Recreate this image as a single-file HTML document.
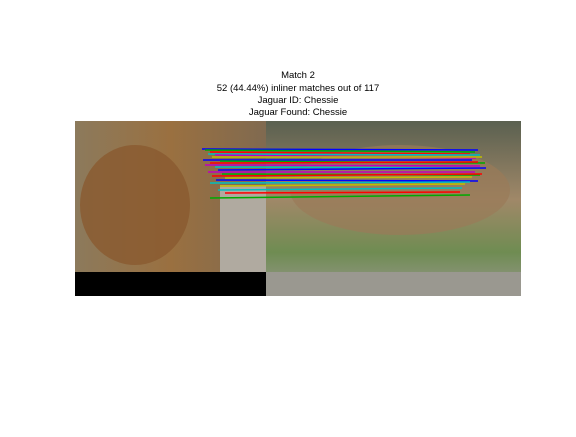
<!DOCTYPE html>
<html><head><meta charset="utf-8"><style>
body{margin:0;background:#fff;width:576px;height:432px;overflow:hidden;font-family:"Liberation Sans",sans-serif}
</style></head><body>
<svg width="576" height="432">
<defs>
<linearGradient id="lg" x1="0" y1="0" x2="1" y2="0"><stop offset="0" stop-color="#8c7a5c"/><stop offset="0.5" stop-color="#9a7040"/><stop offset="1" stop-color="#806a50"/></linearGradient>
<linearGradient id="rg" x1="0" y1="0" x2="0" y2="1"><stop offset="0" stop-color="#5a6050"/><stop offset="0.45" stop-color="#a08868"/><stop offset="0.75" stop-color="#6f8c52"/><stop offset="1" stop-color="#9a9890"/></linearGradient>
</defs>
<g font-size="9.5" text-anchor="middle" fill="#000">
<text x="298" y="78">Match 2</text>
<text x="298" y="91">52 (44.44%) inliner matches out of 117</text>
<text x="298" y="103">Jaguar ID: Chessie</text>
<text x="298" y="115">Jaguar Found: Chessie</text>
</g>
<g>
<rect x="75" y="121" width="191" height="151" fill="url(#lg)"/>
<ellipse cx="135" cy="205" rx="55" ry="60" fill="#8a5a30" opacity="0.8"/>
<rect x="220" y="185" width="46" height="87" fill="#b0aaa0"/>
<rect x="75" y="272" width="191" height="24" fill="#000"/>
</g>
<g>
<rect x="266" y="121" width="255" height="175" fill="url(#rg)"/>
<ellipse cx="400" cy="190" rx="110" ry="45" fill="#9a7a58" opacity="0.7"/>
<rect x="266" y="272" width="255" height="24" fill="#9a9890"/>
</g>
<g id="lines"></g>
</svg>
<script>
const x1s=[202,205,210,208,215,212,203,220,210,205,215,218,208,222,212,225,216,210,220,218,225,210];
const y1s=[149,150,152,154,155,157,160,161,163,165,167,170,172,174,176,178,180,183,186,190,193,198];
const x2s=[478,475,470,480,476,482,472,485,478,480,470,486,475,480,482,472,478,470,465,462,460,470];
const y2s=[150,152,154,155,158,157,160,163,162,166,168,168,172,175,174,177,181,182,184,188,192,195];
const colors=['#0000ff','#00aa00','#ff0000','#00bfbf','#bf00bf','#bfbf00','#0000ff','#00aa00','#ff0000','#bf00bf','#00bfbf','#0000ff','#bf00bf','#00aa00','#ff0000','#bfbf00','#0000ff','#00bfbf','#bfbf00','#00bfbf','#ff0000','#00aa00'];
const g=document.getElementById('lines');
for(let i=0;i<x1s.length;i++){
 const l=document.createElementNS('http://www.w3.org/2000/svg','line');
 l.setAttribute('x1',x1s[i]);l.setAttribute('y1',y1s[i]);l.setAttribute('x2',x2s[i]);l.setAttribute('y2',y2s[i]);
 l.setAttribute('stroke',colors[i%colors.length]);l.setAttribute('stroke-width','1.5');
 
 
 g.appendChild(l);
}
</script>
</body></html>
